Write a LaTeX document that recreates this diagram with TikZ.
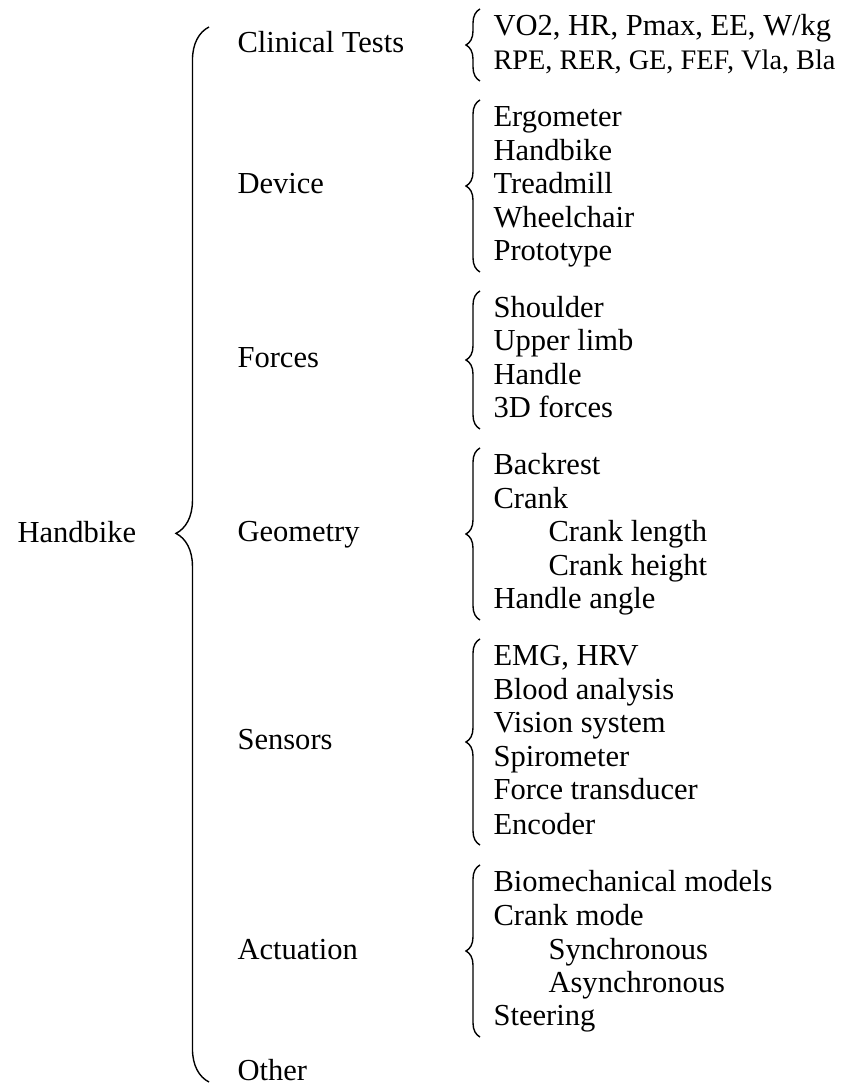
\documentclass[tikz,border=0pt]{standalone}
\usepackage{fontspec}
\setmainfont{Liberation Serif}
\usetikzlibrary{decorations.pathreplacing}

\tikzstyle{lbl} = [anchor=base west, inner sep=0pt, font=\fontsize{10.9}{13}\selectfont]
\tikzstyle{bigbrace} = [decorate, decoration={brace, amplitude=11.8pt, aspect=0.52}, line width=0.5pt]
\tikzstyle{brc} = [decorate, decoration={brace, amplitude=5pt}, line width=0.5pt]

\begin{document}
\begin{tikzpicture}[x=0.357pt, y=0.357pt]
\useasboundingbox (0,0) rectangle (842,1084);

\node[lbl] (hb) at (17,541) {Handbike};

\node[lbl] (clin) at (237,1031) {Clinical Tests};
\node[lbl] (dev) at (237,890) {Device};
\node[lbl] (frc) at (237,716) {Forces};
\node[lbl] (geo) at (237,542) {Geometry};
\node[lbl] (sens) at (237,334) {Sensors};
\node[lbl] (act) at (237,125) {Actuation};
\node[lbl] (oth) at (237,3) {Other};

\node[lbl] (clin1) at (493,1048) {VO2, HR, Pmax, EE, W/kg};
\node[lbl] (clin2) at (493,1014) {\fontsize{10.1}{12}\selectfont RPE, RER, GE, FEF, Vla, Bla};

\node[lbl] (dev1) at (493,957) {Ergometer};
\node[lbl] (dev2) at (493,923.5) {Handbike};
\node[lbl] (dev3) at (493,890) {Treadmill};
\node[lbl] (dev4) at (493,856.5) {Wheelchair};
\node[lbl] (dev5) at (493,823) {Prototype};

\node[lbl] (frc1) at (493,766) {Shoulder};
\node[lbl] (frc2) at (493,733) {Upper limb};
\node[lbl] (frc3) at (493,699) {Handle};
\node[lbl] (frc4) at (493,666) {3D forces};

\node[lbl] (geo1) at (493,609) {Backrest};
\node[lbl] (geo2) at (493,575.5) {Crank};
\node[lbl] (geo3) at (548,542) {Crank length};
\node[lbl] (geo4) at (548,508.5) {Crank height};
\node[lbl] (geo5) at (493,475) {Handle angle};

\node[lbl] (sens1) at (493,418) {EMG, HRV};
\node[lbl] (sens2) at (493,384) {Blood analysis};
\node[lbl] (sens3) at (493,351) {Vision system};
\node[lbl] (sens4) at (493,317) {Spirometer};
\node[lbl] (sens5) at (493,284) {Force transducer};
\node[lbl] (sens6) at (493,250) {Encoder};

\node[lbl] (act1) at (493,192) {Biomechanical models};
\node[lbl] (act2) at (493,158.5) {Crank mode};
\node[lbl] (act3) at (548,125) {Synchronous};
\node[lbl] (act4) at (548,91.5) {Asynchronous};
\node[lbl] (act5) at (493,58) {Steering};

% braces
\draw[bigbrace] ([shift={(-28,-1)}]oth.base west) -- ([shift={(-28,26)}]clin.base west);

\draw[brc] ([shift={(-13,-11)}]clin2.base west) -- ([shift={(-13,27)}]clin1.base west);
\draw[brc] ([shift={(-13,-11)}]dev5.base west) -- ([shift={(-13,27)}]dev1.base west);
\draw[brc] ([shift={(-13,-11)}]frc4.base west) -- ([shift={(-13,27)}]frc1.base west);
\draw[brc] ([shift={(-13,-11)}]geo5.base west) -- ([shift={(-13,27)}]geo1.base west);
\draw[brc] ([shift={(-13,-11)}]sens6.base west) -- ([shift={(-13,27)}]sens1.base west);
\draw[brc] ([shift={(-13,-11)}]act5.base west) -- ([shift={(-13,27)}]act1.base west);

\end{tikzpicture}
\end{document}
